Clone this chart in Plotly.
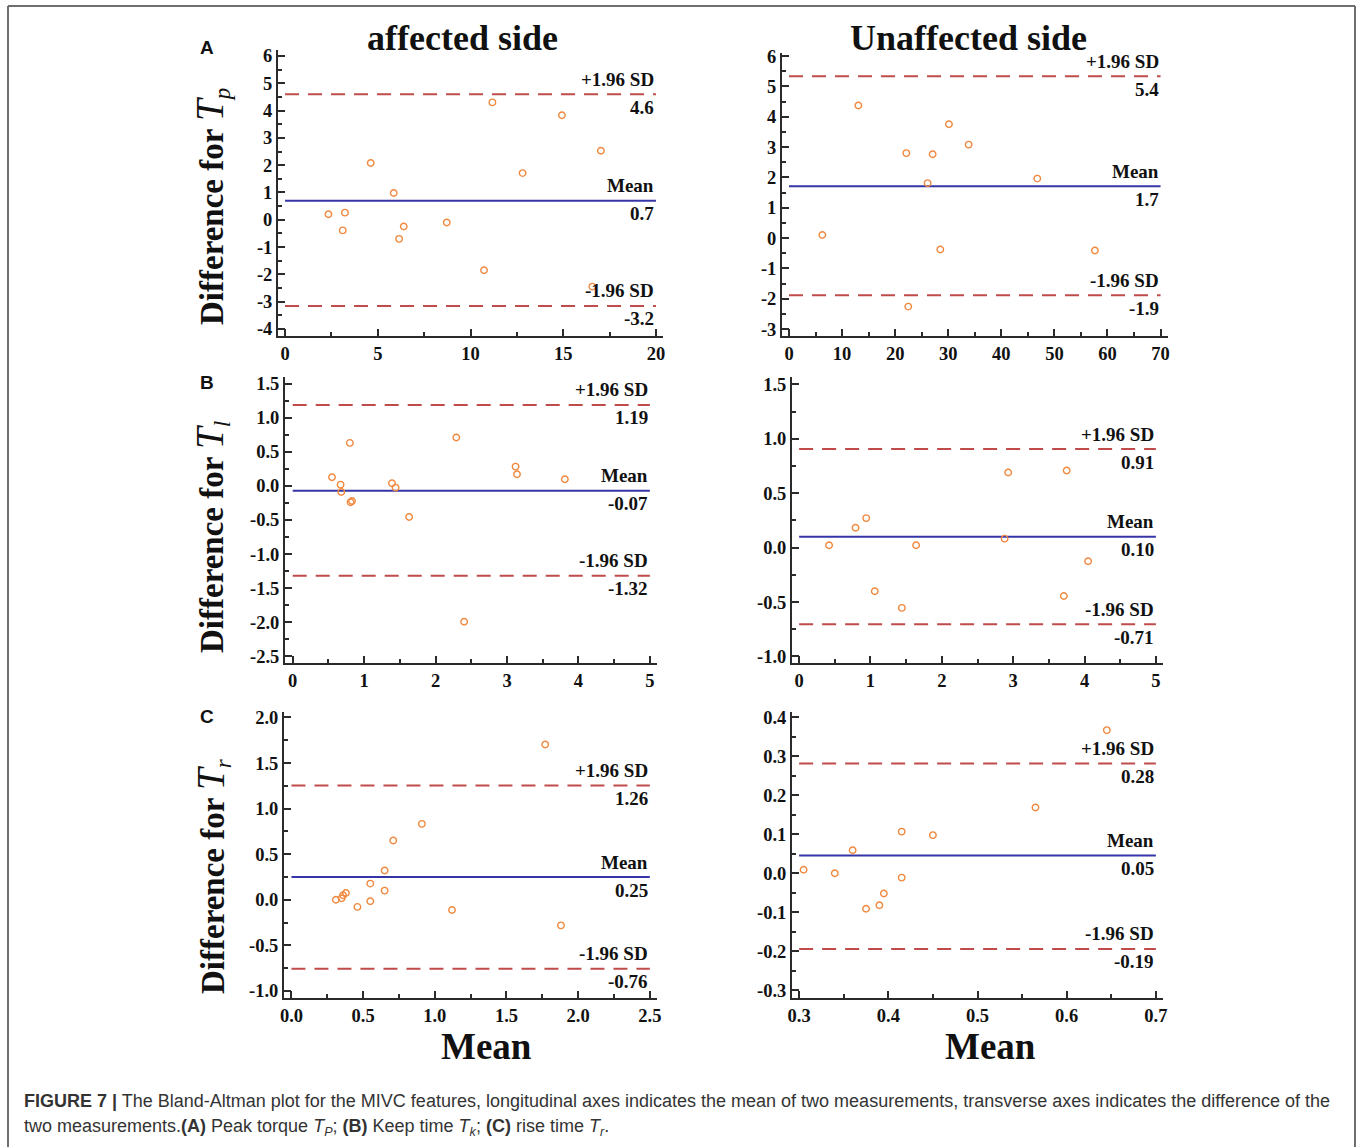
import plotly.graph_objects as go

W, H = 1357, 1147

# ---------------- data ----------------
# Panel A (Peak torque Tp)
A_aff_mean = [2.34, 3.23, 3.11, 4.62, 5.86, 6.15, 6.40, 8.72, 10.73, 11.18, 12.81, 14.93, 17.03, 16.57]
A_aff_diff = [0.20, 0.26, -0.39, 2.08, 0.98, -0.70, -0.25, -0.10, -1.85, 4.30, 1.71, 3.83, 2.53, -2.45]
A_unaff_mean = [6.28, 13.06, 22.10, 22.47, 26.11, 27.06, 28.50, 30.13, 33.84, 46.77, 57.63]
A_unaff_diff = [0.10, 4.37, 2.80, -2.26, 1.81, 2.76, -0.38, 3.75, 3.08, 1.96, -0.41]
A_aff_lines = [4.6, 0.7, -3.16]
A_aff_labels = ["4.6", "0.7", "-3.2"]
A_unaff_lines = [5.33, 1.71, -1.89]
A_unaff_labels = ["5.4", "1.7", "-1.9"]

# Panel B (Keep time Tk)
B_aff_mean = [0.55, 0.67, 0.68, 0.80, 0.81, 0.83, 1.39, 1.44, 1.63, 2.29, 2.40, 3.12, 3.14, 3.81]
B_aff_diff = [0.127, 0.02, -0.088, 0.632, -0.24, -0.22, 0.04, -0.025, -0.456, 0.711, -1.995, 0.284, 0.172, 0.098]
B_unaff_mean = [0.42, 0.79, 0.94, 1.06, 1.44, 1.64, 2.88, 2.93, 3.71, 3.75, 4.05]
B_unaff_diff = [0.021, 0.183, 0.271, -0.401, -0.554, 0.021, 0.082, 0.69, -0.444, 0.708, -0.126]
B_aff_lines = [1.19, -0.07, -1.32]
B_aff_labels = ["1.19", "-0.07", "-1.32"]
B_unaff_lines = [0.905, 0.10, -0.705]
B_unaff_labels = ["0.91", "0.10", "-0.71"]

# Panel C (Rise time Tr)
C_aff_mean = [0.31, 0.35, 0.36, 0.38, 0.46, 0.55, 0.55, 0.65, 0.65, 0.71, 0.91, 1.12, 1.77, 1.88]
C_aff_diff = [0.0, 0.017, 0.05, 0.075, -0.078, 0.178, -0.016, 0.321, 0.101, 0.65, 0.833, -0.111, 1.704, -0.28]
C_unaff_mean = [0.305, 0.340, 0.360, 0.375, 0.390, 0.395, 0.415, 0.415, 0.450, 0.565, 0.645]
C_unaff_diff = [0.009, 0.0, 0.059, -0.091, -0.082, -0.052, 0.107, -0.011, 0.098, 0.169, 0.3675]
C_aff_lines = [1.255, 0.25, -0.755]
C_aff_labels = ["1.26", "0.25", "-0.76"]
C_unaff_lines = [0.282, 0.046, -0.194]
C_unaff_labels = ["0.28", "0.05", "-0.19"]

# tick values (labels are formatted from these with a plain hyphen minus)
A_aff_xticks = [0, 5, 10, 15, 20]
A_aff_yticks = [-4, -3, -2, -1, 0, 1, 2, 3, 4, 5, 6]
A_unaff_xticks = [0, 10, 20, 30, 40, 50, 60, 70]
A_unaff_yticks = [-3, -2, -1, 0, 1, 2, 3, 4, 5, 6]
B_aff_xticks = [0, 1, 2, 3, 4, 5]
B_aff_yticks = [-2.5, -2.0, -1.5, -1.0, -0.5, 0.0, 0.5, 1.0, 1.5]
B_unaff_xticks = [0, 1, 2, 3, 4, 5]
B_unaff_yticks = [-1.0, -0.5, 0.0, 0.5, 1.0, 1.5]
C_aff_xticks = [0.0, 0.5, 1.0, 1.5, 2.0, 2.5]
C_aff_yticks = [-1.0, -0.5, 0.0, 0.5, 1.0, 1.5, 2.0]
C_unaff_xticks = [0.3, 0.4, 0.5, 0.6, 0.7]
C_unaff_yticks = [-0.3, -0.2, -0.1, 0.0, 0.1, 0.2, 0.3, 0.4]

line_names = ["+1.96 SD", "Mean", "-1.96 SD"]
col_titles = ["affected side", "Unaffected side"]
row_letters = ["A", "B", "C"]
y_title_sub = ["p", "l", "r"]
x_title = "Mean"
caption1 = ("<b>FIGURE 7 |</b> The Bland-Altman plot for the MIVC features, longitudinal axes indicates the mean "
            "of two measurements, transverse axes indicates the difference of the")
caption2 = ("two measurements.<b>(A)</b> Peak torque <i>T<sub>P</sub></i>; <b>(B)</b> Keep time "
            "<i>T<sub>k</sub></i>; <b>(C)</b> rise time <i>T<sub>r</sub></i>.")

# ---------------- layout config (pixels) ----------------
panels = [
    dict(x=A_aff_mean, y=A_aff_diff, lines=A_aff_lines, labels=A_aff_labels, xlim=(0, 20),
         px=(278, 663), py=(50, 336), xr=[-0.38, 20.38], yr=[-4.26, 6.22],
         xt=A_aff_xticks, yt=A_aff_yticks, xm=2.5, ym=0.5, xf="{:.0f}", yf="{:.0f}"),
    dict(x=A_unaff_mean, y=A_unaff_diff, lines=A_unaff_lines, labels=A_unaff_labels, xlim=(0, 70),
         px=(782, 1168), py=(53, 336), xr=[-1.32, 71.4], yr=[-3.23, 6.1],
         xt=A_unaff_xticks, yt=A_unaff_yticks, xm=5, ym=0.5, xf="{:.0f}", yf="{:.0f}"),
    dict(x=B_aff_mean, y=B_aff_diff, lines=B_aff_lines, labels=B_aff_labels, xlim=(0, 5),
         px=(285, 657), py=(377, 663), xr=[-0.108, 5.1], yr=[-2.6, 1.6],
         xt=B_aff_xticks, yt=B_aff_yticks, xm=0.5, ym=0.25, xf="{:.0f}", yf="{:.1f}"),
    dict(x=B_unaff_mean, y=B_unaff_diff, lines=B_unaff_lines, labels=B_unaff_labels, xlim=(0, 5),
         px=(792, 1163), py=(377, 663), xr=[-0.1, 5.1], yr=[-1.06, 1.567],
         xt=B_unaff_xticks, yt=B_unaff_yticks, xm=0.5, ym=0.25, xf="{:.0f}", yf="{:.1f}"),
    dict(x=C_aff_mean, y=C_aff_diff, lines=C_aff_lines, labels=C_aff_labels, xlim=(0, 2.5),
         px=(284, 657), py=(712, 998), xr=[-0.052, 2.55], yr=[-1.077, 2.06],
         xt=C_aff_xticks, yt=C_aff_yticks, xm=0.25, ym=0.25, xf="{:.1f}", yf="{:.1f}"),
    dict(x=C_unaff_mean, y=C_unaff_diff, lines=C_unaff_lines, labels=C_unaff_labels, xlim=(0.3, 0.7),
         px=(792, 1163), py=(712, 998), xr=[0.292, 0.708], yr=[-0.32, 0.414],
         xt=C_unaff_xticks, yt=C_unaff_yticks, xm=0.05, ym=0.05, xf="{:.1f}", yf="{:.1f}"),
]

SERIF = "Liberation Serif, Times New Roman, serif"
SANS = "Liberation Sans, Arial, sans-serif"
AX_COLOR = "#2b2b2b"
SD_COLOR = "#bf4b4b"
MEAN_COLOR = "#3535a8"
PT_COLOR = "#f0883e"
TXT = "#111111"


def fmt(fmtstr, v):
    s = fmtstr.format(v)
    if s.startswith("-") and float(s) == 0:
        s = s[1:]
    return s


fig = go.Figure()
layout = dict(width=W, height=H, margin=dict(l=0, r=0, t=0, b=0, pad=0, autoexpand=False),
              paper_bgcolor="white", plot_bgcolor="white", showlegend=False)
annotations = []
shapes = []

for i, p in enumerate(panels):
    n = i + 1
    xa = "x" if n == 1 else f"x{n}"
    ya = "y" if n == 1 else f"y{n}"
    xkey = "xaxis" if n == 1 else f"xaxis{n}"
    ykey = "yaxis" if n == 1 else f"yaxis{n}"
    common = dict(showgrid=False, zeroline=False, showline=True, linecolor=AX_COLOR, linewidth=2,
                  ticks="inside", ticklen=7, tickwidth=2, tickcolor=AX_COLOR, automargin=False,
                  tickfont=dict(family=SERIF, size=18.5, color=TXT, weight="bold"))
    layout[xkey] = dict(common, domain=[p["px"][0] / W, p["px"][1] / W], range=p["xr"], anchor=ya,
                        tickmode="array", tickvals=p["xt"], ticktext=[fmt(p["xf"], v) for v in p["xt"]],
                        minor=dict(ticks="inside", ticklen=4, tickwidth=1.5, tickcolor=AX_COLOR,
                                   dtick=p["xm"], tick0=0))
    layout[ykey] = dict(common, domain=[1 - p["py"][1] / H, 1 - p["py"][0] / H], range=p["yr"], anchor=xa,
                        tickmode="array", tickvals=p["yt"], ticktext=[fmt(p["yf"], v) for v in p["yt"]],
                        minor=dict(ticks="inside", ticklen=4, tickwidth=1.5, tickcolor=AX_COLOR,
                                   dtick=p["ym"], tick0=0))
    x0, x1 = p["xlim"]
    for j, (v, lab) in enumerate(zip(p["lines"], p["labels"])):
        is_mean = j == 1
        fig.add_trace(go.Scatter(x=[x0, x1], y=[v, v], mode="lines", xaxis=xa, yaxis=ya,
                                 line=dict(color=MEAN_COLOR if is_mean else SD_COLOR, width=2,
                                           dash="solid" if is_mean else "14px,9px"),
                                 hoverinfo="skip"))
        annotations.append(dict(x=x1, y=v, xref=xa, yref=ya, text=line_names[j], showarrow=False,
                                xanchor="right", yanchor="middle", yshift=15,
                                font=dict(family=SERIF, size=19, color=TXT, weight="bold")))
        annotations.append(dict(x=x1, y=v, xref=xa, yref=ya, text=lab, showarrow=False,
                                xanchor="right", yanchor="middle", yshift=-13,
                                font=dict(family=SERIF, size=19, color=TXT, weight="bold")))
    fig.add_trace(go.Scatter(x=p["x"], y=p["y"], mode="markers", xaxis=xa, yaxis=ya,
                             marker=dict(symbol="circle-open", size=6.5, color=PT_COLOR,
                                         line=dict(width=1.4, color=PT_COLOR))))

# column titles
for cx, t in zip([462, 968], col_titles):
    annotations.append(dict(x=cx / W, y=1 - 38 / H, xref="paper", yref="paper", text=t,
                            showarrow=False, xanchor="center", yanchor="middle",
                            font=dict(family=SERIF, size=36, color=TXT, weight="bold")))
# row letters and y titles
for cy_l, cy_t, let, sub in zip([48, 382, 716], [207, 537, 876], row_letters, y_title_sub):
    annotations.append(dict(x=207 / W, y=1 - cy_l / H, xref="paper", yref="paper", text=let,
                            showarrow=False, xanchor="center", yanchor="middle",
                            font=dict(family=SANS, size=19, color=TXT, weight="bold")))
    yt = (f"<b>Difference for </b><span style='font-size:39px'><i>T</i></span>"
          f"<sub><i>{sub}</i></sub>")
    annotations.append(dict(x=212 / W, y=1 - cy_t / H, xref="paper", yref="paper", text=yt,
                            showarrow=False, xanchor="center", yanchor="middle", textangle=-90,
                            font=dict(family=SERIF, size=33, color=TXT)))
# x titles
for cx in [486, 990]:
    annotations.append(dict(x=cx / W, y=1 - 1046 / H, xref="paper", yref="paper", text=x_title,
                            showarrow=False, xanchor="center", yanchor="middle",
                            font=dict(family=SERIF, size=37, color=TXT, weight="bold")))
# caption
annotations.append(dict(x=22 / W, y=1 - 1101 / H, xref="paper", yref="paper", text=caption1, showarrow=False,
                        xanchor="left", yanchor="middle", font=dict(family=SANS, size=18, color="#333")))
annotations.append(dict(x=22 / W, y=1 - 1127 / H, xref="paper", yref="paper", text=caption2, showarrow=False,
                        xanchor="left", yanchor="middle", font=dict(family=SANS, size=18, color="#333")))

# frame
for (xa0, ya0, xa1, ya1) in [(8, 6, 1355, 6), (8, 6, 8, 1160), (1355, 6, 1355, 1160)]:
    shapes.append(dict(type="line", xref="paper", yref="paper", x0=xa0 / W, y0=1 - ya0 / H,
                       x1=xa1 / W, y1=1 - ya1 / H, line=dict(color="#6e6e6e", width=2)))

layout["annotations"] = annotations
layout["shapes"] = shapes
fig.update_layout(**layout)
fig.write_html("out.html",
               post_script="document.body.style.margin='0';document.body.style.overflow='hidden';")
